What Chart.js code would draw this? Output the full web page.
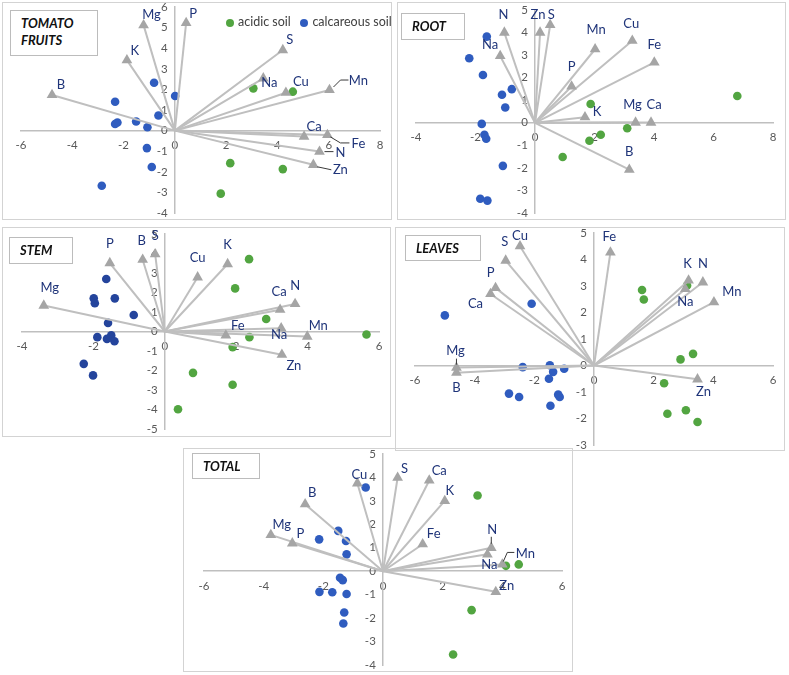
<!DOCTYPE html>
<html>
<head>
<meta charset="utf-8">
<script src="https://cdn.jsdelivr.net/npm/chart.js@4.4.1/dist/chart.umd.min.js"></script>
<style>
  body { margin: 0; width: 789px; height: 675px; position: relative; background: #fff; overflow: hidden; font-family: Lato, "Open Sans", sans-serif; }
  .panel { position: absolute; border: 1.5px solid #d3d3d3; box-sizing: border-box; }
  .title { position: absolute; border: 1.5px solid #bcbcbc; box-sizing: border-box; font: italic bold 13px Lato, sans-serif; color: #111; line-height: 17px; padding: 4px 0 0 10px; }
  canvas { position: absolute; }
  .legend { position: absolute; font: 12.5px Lato, sans-serif; color: #404040; white-space: nowrap; }
  .dot { display: inline-block; width: 8px; height: 8px; border-radius: 50%; margin-right: 4px; vertical-align: -0.5px; }
</style>
</head>
<body>
<script>
// TOMATO FRUITS
const fruitNames = ["B", "K", "Mg", "P", "S", "Na", "Cu", "Mn", "Ca", "Fe", "N", "Zn"];
const fruitVecX = [-4.79, -1.87, -1.22, 0.44, 4.21, 3.45, 4.33, 6.03, 5.04, 5.95, 5.64, 5.40];
const fruitVecY = [1.73, 3.42, 5.12, 5.23, 3.91, 2.54, 1.84, 1.97, -0.29, -0.21, -1.02, -1.66];
const fruitAcid = [[3.06, 2.05], [4.60, 1.89], [2.16, -1.58], [4.21, -1.87], [1.79, -3.06]];
const fruitCalc = [[-0.81, 2.32], [0.01, 1.68], [-2.33, 1.40], [-0.64, 0.73], [-1.51, 0.44], [-2.24, 0.39],
  [-2.33, 0.32], [-1.07, 0.16], [-1.09, -0.85], [-0.90, -1.77], [-2.85, -2.68]];

// ROOT
const rootNames = ["N", "Na", "Zn", "S", "P", "Mn", "Cu", "Fe", "K", "Mg", "Ca", "B"];
const rootVecX = [-1.03, -1.17, 0.17, 0.51, 1.23, 2.02, 3.27, 4.01, 1.68, 3.38, 3.90, 3.17];
const rootVecY = [4.00, 2.96, 4.00, 4.34, 1.61, 3.26, 3.64, 2.68, 0.25, 0.01, 0.01, -2.08];
const rootAcid = [[6.80, 1.19], [1.87, 0.83], [3.10, -0.24], [2.21, -0.53], [1.83, -0.80], [0.93, -1.52]];
const rootCalc = [[-1.62, 3.82], [-2.21, 2.86], [-1.75, 2.12], [-0.78, 1.49], [-1.11, 1.24], [-1.00, 0.68],
  [-1.79, -0.05], [-1.70, -0.53], [-1.64, -0.71], [-1.08, -1.91], [-1.84, -3.37], [-1.60, -3.45]];

// STEM
const stemNames = ["Mg", "P", "B", "S", "Cu", "K", "Ca", "N", "Fe", "Na", "Mn", "Zn"];
const stemVecX = [-3.39, -1.54, -0.62, -0.27, 0.92, 1.76, 3.23, 3.65, 1.71, 3.26, 3.99, 3.28];
const stemVecY = [1.33, 3.51, 3.68, 3.97, 2.78, 3.46, 1.12, 1.41, -0.20, 0.17, -0.26, -1.19];
const stemAcid = [[2.36, 3.71], [1.97, 2.21], [2.84, 0.64], [5.65, -0.15], [2.37, -0.29], [1.90, -0.80],
  [0.79, -2.12], [1.90, -2.73], [0.37, -3.99]];
const stemCalc = [[-1.64, 2.69], [-1.99, 1.70], [-1.40, 1.70], [-1.96, 1.45], [-0.87, 0.85], [-1.59, 0.44],
  [-1.89, -0.29], [-1.50, -0.20], [-1.62, -0.38], [-1.41, -0.50], [-2.27, -1.66], [-2.01, -2.25]];

// LEAVES
const leafNames = ["Cu", "S", "P", "Ca", "Fe", "K", "N", "Na", "Mn", "Mg", "B", "Zn"];
const leafVecX = [-2.48, -2.96, -3.30, -3.47, 0.55, 3.17, 3.65, 3.06, 4.02, -4.61, -4.61, 3.47];
const leafVecY = [4.50, 3.96, 2.93, 2.70, 4.27, 3.21, 3.14, 2.89, 2.39, -0.08, -0.27, -0.52];
const leafAcid = [[1.61, 2.85], [1.67, 2.49], [3.12, 3.02], [3.32, 0.44], [2.90, 0.23], [2.35, -0.67],
  [2.46, -1.82], [3.08, -1.69], [3.47, -2.13]];
const leafCalc = [[-5.00, 1.89], [-2.09, 2.33], [-2.39, -0.06], [-1.48, 0.01], [-1.37, -0.24], [-1.00, -0.12],
  [-1.51, -0.50], [-2.85, -1.06], [-2.51, -1.19], [-1.20, -1.10], [-1.15, -1.19], [-1.46, -1.52]];

// TOTAL
const totalNames = ["Cu", "S", "Ca", "K", "B", "Mg", "P", "Fe", "N", "Na", "Mn", "Zn"];
const totalVecX = [-0.86, 0.49, 1.55, 2.07, -2.61, -3.76, -3.04, 1.33, 3.63, 3.50, 4.00, 3.78];
const totalVecY = [3.75, 3.99, 3.87, 3.00, 2.86, 1.55, 1.19, 1.15, 1.00, 0.72, 0.29, -0.88];
const totalAcid = [[3.17, 3.23], [4.12, 0.23], [4.55, 0.29], [2.97, -1.66], [2.35, -3.55]];
const totalCalc = [[-0.58, 3.57], [-1.50, 1.72], [-2.14, 1.36], [-1.24, 1.29], [-1.22, 0.72], [-1.44, -0.28],
  [-1.35, -0.38], [-2.13, -0.88], [-1.70, -0.90], [-1.22, -0.97], [-1.30, -1.76], [-1.33, -2.23]];

const GREEN = "#52a541";
const BLUE = "#2f5cbf";
const NAVY = "#24449c";
const TRI = "#a5a5a5";
const LINE = "#bfbfbf";
const AXIS = "#bfbfbf";
const LABEL = "#1f3479";
const TICK = "#595959";
const PAD = 24;

// label offsets (px from triangle centre) and small leader lines
const panels = [
  {
    title: "TOMATO<br>FRUITS", frame: [2, 2, 392, 220], titleBox: [10, 10, 88, 46],
    area: [21, 7, 380, 213], xr: [-6, 8], yr: [-4, 6],
    names: fruitNames, vx: fruitVecX, vy: fruitVecY, acid: fruitAcid, calc: fruitCalc, blue: BLUE,
    offs: { B: [9, -10], K: [8, -9], Mg: [8, -10], P: [7, -9], S: [7, -10], Na: [6, 5], Cu: [15, -11],
      Mn: [29, -9], Ca: [10, -10], Fe: [31, 9], N: [21, 1], Zn: [27, 5] },
    leaders: { Mn: [[4, -3], [11, -10], [19, -10]], Fe: [[3, 2], [13, 8], [22, 8]],
      N: [[5, 0], [14, 0]], Zn: [[4, 2], [18, 5]] }
  },
  {
    title: "ROOT", frame: [397, 2, 786, 220], titleBox: [401, 13, 64, 27],
    area: [416, 10, 773, 213], xr: [-4, 8], yr: [-4, 5],
    names: rootNames, vx: rootVecX, vy: rootVecY, acid: rootAcid, calc: rootCalc, blue: BLUE,
    offs: { N: [-1, -18], Na: [-10, -11], Zn: [-2, -18], S: [1, -10], P: [0, -20], Mn: [1, -19],
      Cu: [-1, -17], Fe: [0, -18], K: [12, -5], Mg: [-3, -18], Ca: [3, -18], B: [0, -18] },
    leaders: {}
  },
  {
    title: "STEM", frame: [2, 227, 391, 437], titleBox: [9, 237, 64, 27],
    area: [22, 234, 379, 429], xr: [-4, 6], yr: [-5, 5],
    names: stemNames, vx: stemVecX, vy: stemVecY, acid: stemAcid, calc: stemCalc, blue: NAVY,
    offs: { Mg: [6, -18], P: [0, -19], B: [-1, -19], S: [0, -18], Cu: [0, -19], K: [0, -19], Ca: [-1, -18],
      N: [0, -18], Fe: [12, -10], Na: [-2, 7], Mn: [11, -11], Zn: [12, 11] },
    leaders: {}
  },
  {
    title: "LEAVES", frame: [395, 227, 785, 451], titleBox: [405, 235, 76, 26],
    area: [415, 233, 773, 445], xr: [-6, 6], yr: [-3, 5],
    names: leafNames, vx: leafVecX, vy: leafVecY, acid: leafAcid, calc: leafCalc, blue: BLUE,
    offs: { Cu: [0, -10], S: [-1, -19], P: [-5, -15], Ca: [-15, 10], Fe: [-1, -16], K: [-1, -17],
      N: [0, -18], Na: [0, 13], Mn: [18, -10], Mg: [-1, -17], B: [0, 15], Zn: [6, 13] },
    leaders: { Mg: [[0, -3], [0, -9]] }
  },
  {
    title: "TOTAL", frame: [183, 448, 573, 672], titleBox: [192, 453, 68, 26],
    area: [204, 454, 562, 665], xr: [-6, 6], yr: [-4, 5],
    names: totalNames, vx: totalVecX, vy: totalVecY, acid: totalAcid, calc: totalCalc, blue: BLUE,
    offs: { Cu: [2, -8], S: [7, -9], Ca: [10, -10], K: [5, -10], B: [7, -11], Mg: [11, -10], P: [8, -10],
      Fe: [11, -10], N: [1, -18], Na: [2, 10], Mn: [23, -11], Zn: [11, -6] },
    leaders: { N: [[0, -4], [0, -11]], Mn: [[1, -3], [5, -12], [12, -12]] }
  }
];

function zeroPad(s) {
  s.paddingLeft = 0; s.paddingRight = 0; s.paddingTop = 0; s.paddingBottom = 0;
}

function vectorLabels(p) {
  return {
    id: "vectorLabels",
    afterDatasetsDraw(chart) {
      const { ctx, scales: { x, y } } = chart;
      ctx.save();
      ctx.font = "13px Lato, sans-serif";
      ctx.fillStyle = LABEL;
      ctx.textAlign = "center";
      ctx.textBaseline = "middle";
      p.names.forEach((n, i) => {
        const px = x.getPixelForValue(p.vx[i]);
        const py = y.getPixelForValue(p.vy[i]);
        const [dx, dy] = p.offs[n] || [0, -14];
        ctx.fillText(n, px + dx, py + dy);
        const ld = p.leaders[n];
        if (ld) {
          ctx.strokeStyle = "#3a3a3a";
          ctx.lineWidth = 1;
          ctx.beginPath();
          ld.forEach(([lx, ly], k) => (k ? ctx.lineTo(px + lx, py + ly) : ctx.moveTo(px + lx, py + ly)));
          ctx.stroke();
        }
      });
      ctx.restore();
    },
  };
}

function buildPanel(p) {
  const fr = document.createElement("div");
  fr.className = "panel";
  Object.assign(fr.style, { left: p.frame[0] + "px", top: p.frame[1] + "px",
    width: p.frame[2] - p.frame[0] + "px", height: p.frame[3] - p.frame[1] + "px" });
  document.body.append(fr);

  const tb = document.createElement("div");
  tb.className = "title";
  tb.innerHTML = p.title;
  Object.assign(tb.style, { left: p.titleBox[0] + "px", top: p.titleBox[1] + "px",
    width: p.titleBox[2] + "px", height: p.titleBox[3] + "px" });
  document.body.append(tb);

  const [L, T, R, B] = p.area;
  const cv = document.createElement("canvas");
  cv.width = R - L + 2 * PAD;
  cv.height = B - T + 2 * PAD;
  cv.style.left = L - PAD + "px";
  cv.style.top = T - PAD + "px";
  document.body.append(cv);

  const datasets = [
    {
      data: p.names.map((n, i) => ({ x: p.vx[i], y: p.vy[i] })),
      pointStyle: "triangle", pointRadius: 6.2, pointBackgroundColor: TRI, pointBorderWidth: 0, order: 0,
    },
    ...p.names.map((n, i) => ({
      data: [{ x: 0, y: 0 }, { x: p.vx[i], y: p.vy[i] }],
      showLine: true, borderColor: LINE, borderWidth: 2, pointRadius: 0, order: 1,
    })),
    {
      data: p.acid.map(([x, y]) => ({ x, y })),
      pointRadius: 4.3, pointBackgroundColor: GREEN, pointBorderWidth: 0, order: 2,
    },
    {
      data: p.calc.map(([x, y]) => ({ x, y })),
      pointRadius: 4.3, pointBackgroundColor: p.blue, pointBorderWidth: 0, order: 2,
    },
  ];

  const tickFont = { family: "Lato, sans-serif", size: 11.5 };
  new Chart(cv, {
    type: "scatter",
    data: { datasets },
    options: {
      responsive: false,
      animation: false,
      events: [],
      clip: false,
      layout: { padding: PAD },
      plugins: { legend: { display: false }, tooltip: { enabled: false } },
      scales: {
        x: {
          type: "linear", min: p.xr[0], max: p.xr[1], position: { y: 0 },
          grid: { display: false, drawTicks: false },
          border: { color: AXIS, width: 1.5 },
          ticks: { stepSize: 2, color: TICK, font: tickFont, padding: 8, autoSkip: false, maxRotation: 0 },
          afterFit: zeroPad,
        },
        y: {
          type: "linear", min: p.yr[0], max: p.yr[1], position: { x: 0 },
          grid: { display: false, drawTicks: false },
          border: { color: AXIS, width: 1.5 },
          ticks: { stepSize: 1, color: TICK, font: tickFont, autoSkip: false,
            callback: (v) => v + "\u2002\u2009" },
          afterFit: zeroPad,
        },
      },
    },
    plugins: [vectorLabels(p)],
  });
}

panels.forEach(buildPanel);

const lg = document.createElement("div");
lg.className = "legend";
lg.style.left = "226px";
lg.style.top = "14px";
lg.innerHTML = '<span class="dot" style="background:' + GREEN + '"></span>acidic soil&nbsp;&nbsp;&nbsp;' +
  '<span class="dot" style="background:' + BLUE + '"></span>calcareous soil';
document.body.append(lg);
</script>
</body>
</html>
